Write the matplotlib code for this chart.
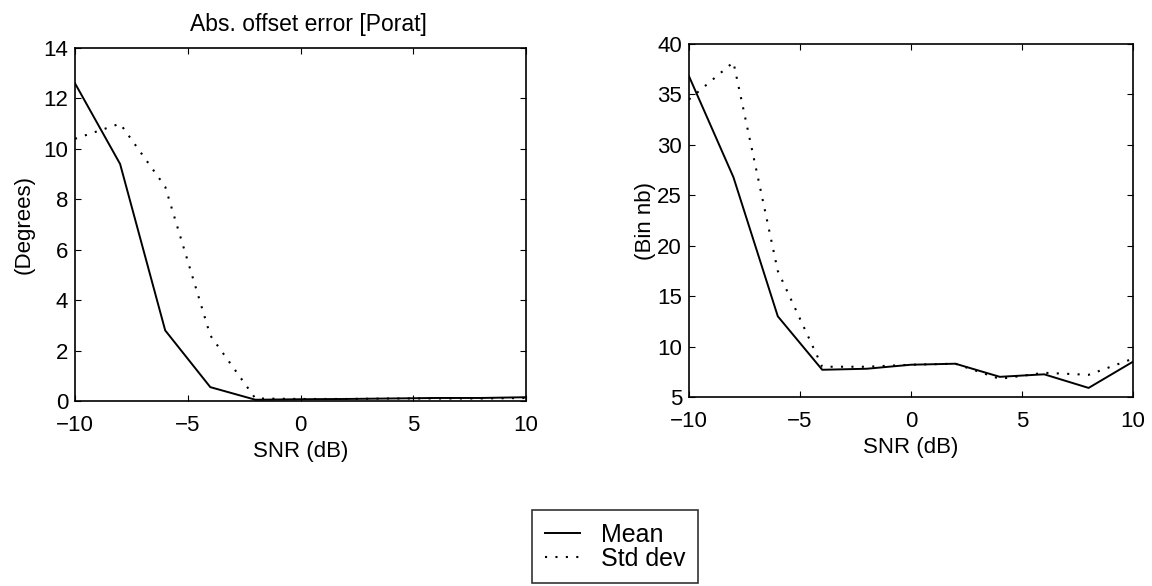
import numpy as np
import matplotlib
matplotlib.use("Agg")
import matplotlib.pyplot as plt

plt.rcParams['font.family'] = ['Liberation Sans', 'DejaVu Sans']

snr = [-10, -8, -6, -4, -2, 0, 2, 4, 6, 8, 10]

# left panel: offset error (degrees)
deg_mean = [12.6, 9.4, 2.8, 0.55, 0.05, 0.07, 0.08, 0.1, 0.12, 0.12, 0.15]
deg_std = [10.4, 11.0, 8.5, 2.6, 0.1, 0.08, 0.08, 0.1, 0.1, 0.1, 0.12]

# right panel: bin number
bin_mean = [36.8, 26.8, 13.0, 7.7, 7.8, 8.2, 8.3, 7.0, 7.25, 5.9, 8.5]
bin_std = [34.5, 38.2, 17.5, 8.0, 8.0, 8.2, 8.3, 6.8, 7.4, 7.2, 8.8]

fig = plt.figure(figsize=(11.52, 5.86), dpi=100)
W, H = 1152, 586

def px_axes(x0, y0, x1, y1):
    return fig.add_axes([x0 / W, 1 - y1 / H, (x1 - x0) / W, (y1 - y0) / H])

ax1 = px_axes(75, 48, 526, 401)
ax2 = px_axes(689, 44, 1133, 397)

dot = (0, (1, 4))
FS = 16

for ax in (ax1, ax2):
    ax.tick_params(direction='in', top=True, right=True, labelsize=FS, length=4)
    ax.tick_params(axis='x', pad=10)
    ax.tick_params(axis='y', pad=5)
    for s in ax.spines.values():
        s.set_linewidth(1.2)
    ax.set_xlim(-10, 10)
    ax.set_xticks([-10, -5, 0, 5, 10])
    ax.set_xticklabels(['\u221210', '\u22125', '0', '5', '10'])
    ax.set_xlabel('SNR (dB)', fontsize=FS, labelpad=4)

l1, = ax1.plot(snr, deg_mean, 'k-', lw=1.4, label='Mean')
l2, = ax1.plot(snr, deg_std, color='k', ls=dot, lw=1.5, label='Std dev')
ax1.set_ylim(0, 14)
ax1.set_yticks(range(0, 15, 2))
ax1.set_ylabel('(Degrees)', fontsize=FS, labelpad=6)
ax1.set_title('Abs. offset error [Porat]', fontsize=16.5, pad=12, x=0.518)

ax2.plot(snr, bin_mean, 'k-', lw=1.4)
ax2.plot(snr, bin_std, color='k', ls=dot, lw=1.5)
ax2.set_ylim(5, 40)
ax2.set_yticks(range(5, 41, 5))
ax2.set_ylabel('(Bin nb)', fontsize=FS, labelpad=1)

leg = fig.legend(handles=[l1, l2], loc='upper left',
                 bbox_to_anchor=(532 / W, 1 - 510 / H),
                 borderaxespad=0, fontsize=18, frameon=True, fancybox=False,
                 handlelength=1.4, handletextpad=0.85, borderpad=0.5,
                 labelspacing=0.0)
leg.get_frame().set_edgecolor('black')
leg.get_frame().set_linewidth(1.2)

fig.savefig('out.png', dpi=100)
